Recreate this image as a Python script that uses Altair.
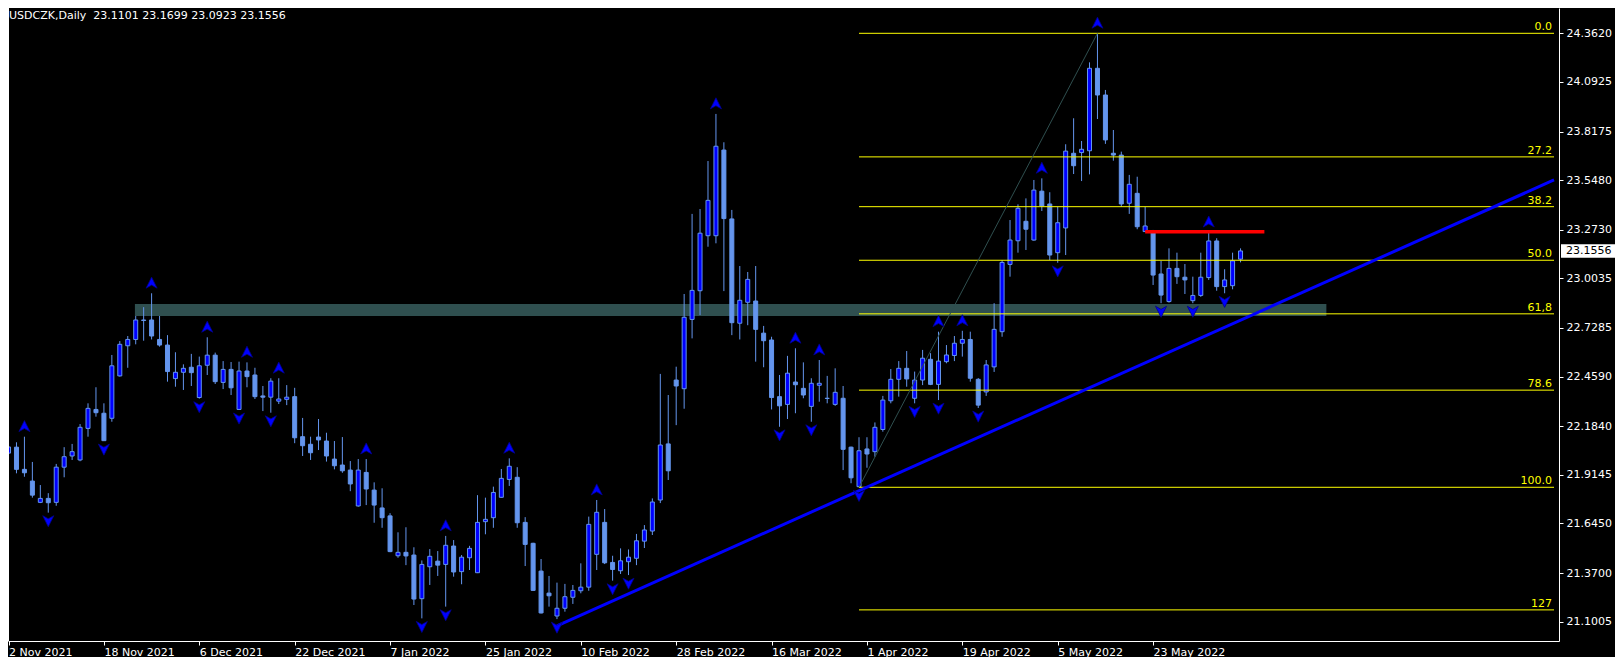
import altair as alt
import pandas as pd

# ---------------- data ----------------
opens = [22.035, 22.068, 21.945, 21.880, 21.762, 21.784, 21.762, 21.957, 22.019, 21.997,
         22.172, 22.277, 22.256, 22.228, 22.463, 22.630, 22.665, 22.773, 22.773, 22.665,
         22.634, 22.448, 22.483, 22.511, 22.343, 22.522, 22.578, 22.427, 22.499, 22.277,
         22.490, 22.468, 22.352, 22.345, 22.323, 22.333, 22.348, 22.126, 22.084, 22.124,
         22.102, 22.002, 21.969, 21.941, 21.742, 21.928, 21.830, 21.731, 21.687, 21.466,
         21.485, 21.470, 21.228, 21.405, 21.436, 21.418, 21.520, 21.378, 21.455, 21.372,
         21.655, 21.677, 21.790, 21.889, 21.901, 21.651, 21.535, 21.381, 21.259, 21.132,
         21.175, 21.236, 21.272, 21.292, 21.474, 21.651, 21.429, 21.383, 21.433, 21.452,
         21.547, 21.603, 21.775, 22.086, 22.440, 22.392, 22.776, 22.935, 23.240, 23.240,
         23.715, 23.333, 22.755, 22.871, 22.878, 22.700, 22.662, 22.348, 22.305, 22.429,
         22.394, 22.294, 22.411, 22.339, 22.305, 22.339, 22.068, 21.849, 22.058, 22.043,
         22.166, 22.325, 22.444, 22.505, 22.339, 22.440, 22.555, 22.416, 22.542, 22.576,
         22.644, 22.665, 22.444, 22.374, 22.513, 22.708, 23.081, 23.212, 23.320, 23.216,
         23.487, 23.416, 23.146, 23.283, 23.697, 23.701, 23.711, 24.168, 24.020, 23.697,
         23.687, 23.420, 23.475, 23.263, 23.260, 23.028, 22.875, 23.059, 23.010, 22.880,
         22.909, 23.008, 23.211, 22.958, 22.963, 23.1101]
highs = [22.091, 22.095, 22.126, 21.986, 21.858, 21.813, 21.975, 22.068, 22.086, 22.196,
         22.311, 22.400, 22.311, 22.579, 22.656, 22.684, 22.795, 22.844, 22.921, 22.795,
         22.689, 22.594, 22.527, 22.585, 22.570, 22.677, 22.592, 22.545, 22.540, 22.542,
         22.538, 22.508, 22.407, 22.450, 22.450, 22.412, 22.397, 22.230, 22.126, 22.224,
         22.148, 22.102, 22.124, 21.991, 22.002, 22.002, 21.873, 21.840, 21.702, 21.596,
         21.624, 21.513, 21.440, 21.503, 21.492, 21.576, 21.553, 21.470, 21.521, 21.802,
         21.788, 21.849, 21.947, 22.006, 21.957, 21.680, 21.538, 21.448, 21.354, 21.317,
         21.310, 21.304, 21.424, 21.683, 21.775, 21.725, 21.466, 21.507, 21.501, 21.587,
         21.636, 21.784, 22.474, 22.357, 22.514, 22.917, 23.361, 23.388, 23.654, 23.915,
         23.758, 23.383, 23.072, 23.039, 23.072, 22.740, 22.680, 22.468, 22.574, 22.616,
         22.538, 22.450, 22.551, 22.463, 22.505, 22.407, 22.071, 22.123, 22.123, 22.205,
         22.352, 22.501, 22.545, 22.601, 22.487, 22.607, 22.589, 22.708, 22.634, 22.684,
         22.713, 22.708, 22.451, 22.551, 22.866, 23.105, 23.327, 23.414, 23.447, 23.549,
         23.558, 23.481, 23.400, 23.747, 23.891, 23.765, 24.201, 24.362, 24.048, 23.826,
         23.706, 23.577, 23.567, 23.400, 23.272, 23.101, 23.170, 23.146, 23.083, 23.013,
         23.146, 23.260, 23.226, 23.054, 23.146, 23.1699]
lows = [22.008, 21.923, 21.904, 21.788, 21.758, 21.705, 21.743, 21.901, 21.997, 21.990,
        22.126, 22.237, 22.102, 22.209, 22.459, 22.508, 22.638, 22.658, 22.665, 22.625,
        22.431, 22.403, 22.385, 22.407, 22.337, 22.468, 22.418, 22.390, 22.357, 22.274,
        22.400, 22.335, 22.268, 22.259, 22.307, 22.301, 22.090, 22.019, 21.997, 22.052,
        21.988, 21.945, 21.926, 21.824, 21.738, 21.747, 21.649, 21.621, 21.486, 21.455,
        21.414, 21.193, 21.119, 21.304, 21.354, 21.184, 21.350, 21.308, 21.387, 21.370,
        21.585, 21.621, 21.788, 21.853, 21.621, 21.409, 21.271, 21.146, 21.184, 21.115,
        21.156, 21.199, 21.258, 21.272, 21.387, 21.420, 21.328, 21.365, 21.359, 21.414,
        21.509, 21.581, 21.758, 21.886, 22.190, 22.281, 22.671, 22.800, 23.179, 23.198,
        22.933, 22.689, 22.665, 22.744, 22.542, 22.511, 22.277, 22.181, 22.224, 22.256,
        22.339, 22.209, 22.320, 22.311, 22.297, 21.941, 21.868, 21.8455, 21.954, 22.015,
        22.154, 22.311, 22.348, 22.403, 22.311, 22.412, 22.412, 22.329, 22.533, 22.545,
        22.570, 22.431, 22.285, 22.352, 22.485, 22.680, 23.013, 23.146, 23.161, 23.212,
        23.377, 23.105, 23.090, 23.133, 23.582, 23.543, 23.580, 23.887, 23.749, 23.656,
        23.401, 23.361, 23.276, 23.261, 22.967, 22.866, 22.869, 22.973, 22.917, 22.866,
        22.901, 22.995, 22.935, 22.921, 22.943, 23.0923]
closes = [22.069, 21.945, 21.926, 21.802, 21.784, 21.760, 21.957, 22.015, 22.043, 22.178,
          22.283, 22.259, 22.104, 22.519, 22.638, 22.665, 22.773, 22.770, 22.684, 22.634,
          22.487, 22.483, 22.505, 22.481, 22.519, 22.578, 22.431, 22.499, 22.397, 22.490,
          22.459, 22.348, 22.345, 22.434, 22.335, 22.345, 22.120, 22.076, 22.037, 22.108,
          22.019, 21.965, 21.937, 21.864, 21.941, 21.836, 21.747, 21.677, 21.489, 21.485,
          21.465, 21.226, 21.418, 21.463, 21.414, 21.524, 21.376, 21.458, 21.507, 21.651,
          21.668, 21.817, 21.895, 21.962, 21.649, 21.529, 21.274, 21.149, 21.244, 21.175,
          21.239, 21.274, 21.292, 21.640, 21.707, 21.427, 21.390, 21.438, 21.458, 21.549,
          21.609, 21.764, 22.080, 21.937, 22.407, 22.788, 22.937, 23.254, 23.436, 23.736,
          23.335, 22.758, 22.882, 22.998, 22.721, 22.658, 22.343, 22.297, 22.478, 22.414,
          22.357, 22.422, 22.422, 22.338, 22.372, 22.056, 21.898, 22.048, 22.030, 22.178,
          22.329, 22.444, 22.505, 22.446, 22.440, 22.561, 22.416, 22.545, 22.579, 22.644,
          22.665, 22.450, 22.301, 22.524, 22.721, 23.092, 23.216, 23.392, 23.276, 23.493,
          23.405, 23.133, 23.312, 23.709, 23.628, 23.719, 24.168, 24.020, 23.771, 23.687,
          23.416, 23.525, 23.290, 23.294, 23.022, 22.911, 23.059, 23.013, 22.995, 22.909,
          23.010, 23.211, 22.958, 22.995, 23.101, 23.1556]

date_labels = ["2 Nov 2021", "18 Nov 2021", "6 Dec 2021", "22 Dec 2021", "7 Jan 2022",
               "25 Jan 2022", "10 Feb 2022", "28 Feb 2022", "16 Mar 2022", "1 Apr 2022",
               "19 Apr 2022", "5 May 2022", "23 May 2022"]
date_tick_bars = [0, 12, 24, 36, 48, 60, 72, 84, 96, 108, 120, 132, 144]
price_ticks = [24.3620, 24.0925, 23.8175, 23.5480, 23.2730, 23.0035, 22.7285,
               22.4590, 22.1840, 21.9145, 21.6450, 21.3700, 21.1005]

fib_labels = ["0.0", "27.2", "38.2", "50.0", "61,8", "78.6", "100.0", "127"]
fib_prices = [24.362, 23.677, 23.401, 23.104, 22.807, 22.384, 21.8455, 21.166]
fib_start_bar = 107

fractal_up_bars = [2, 18, 25, 30, 34, 45, 55, 63, 74, 89, 99, 102, 117, 120, 130, 137, 151]
fractal_down_bars = [5, 12, 24, 29, 33, 52, 55, 69, 76, 78, 97, 101, 107, 114, 117, 122,
                     132, 145, 149, 153]

zone_bars = [15.9, 165.8]
zone_prices = [22.795, 22.8615]
trend_bars = [69, 194.4375]
trend_prices = [21.078, 23.549]
red_bars = [143, 158]
red_price = 23.262
fib_diag_bars = [107, 137]
fib_diag_prices = [21.8455, 24.362]
last_price = 23.1556
title_text = "USDCZK,Daily\u00a0 23.1101 23.1699 23.0923 23.1556"

x_domain = [0.5625, 194.4375]
y_domain = [20.9935, 24.5023]

# ---------------- tables ----------------
n = len(opens)
candles = pd.DataFrame({"bar": list(range(n)), "open": opens, "high": highs,
                        "low": lows, "close": closes})
fib = pd.DataFrame({"label": fib_labels, "price": fib_prices,
                    "start": [fib_start_bar] * len(fib_labels),
                    "end": [x_domain[1]] * len(fib_labels)})
up = candles[candles["bar"].isin(fractal_up_bars)]
down = candles[candles["bar"].isin(fractal_down_bars)]
zone = pd.DataFrame({"b0": [zone_bars[0]], "b1": [zone_bars[1]],
                     "lo": [zone_prices[0]], "hi": [zone_prices[1]]})
trend = pd.DataFrame({"bar": trend_bars, "price": trend_prices})
diag = pd.DataFrame({"bar": fib_diag_bars, "price": fib_diag_prices})
red = pd.DataFrame({"b0": [red_bars[0]], "b1": [red_bars[1]], "price": [red_price]})
last = pd.DataFrame({"price": [last_price], "txt": [f"{last_price:.4f}"]})
ttl = pd.DataFrame({"t": [title_text]})

FONT = "DejaVu Sans"
xs = alt.Scale(domain=x_domain, nice=False, zero=False)
ys = alt.Scale(domain=y_domain, nice=False, zero=False)
label_expr = "[" + ",".join(f"'{d}'" for d in date_labels) + "][round(datum.value/12)]"
xaxis = alt.Axis(values=date_tick_bars, labelExpr=label_expr, labelAlign="left",
                 labelBaseline="top", labelColor="white", tickColor="white",
                 domainColor="white", tickSize=4, labelPadding=1, labelFont=FONT,
                 labelFontSize=11, grid=False, title=None, labelOverlap=False,
                 labelFlush=False, labelBound=False)
yaxis = alt.Axis(values=price_ticks, format=".4f", orient="right", labelAlign="left",
                 labelColor="white", tickColor="white", domainColor="white", tickSize=4,
                 labelPadding=3, labelFont=FONT, labelFontSize=11, grid=False, title=None,
                 labelOverlap=False, labelFlush=False, labelBound=False)


def X(f):
    return alt.X(f, type="quantitative", scale=xs, axis=xaxis, title=None)


def Y(f):
    return alt.Y(f, type="quantitative", scale=ys, axis=yaxis, title=None)


CORN = "#6495ED"

zone_l = alt.Chart(zone).mark_rect(color="#2F4F4F", opacity=1, clip=True).encode(
    x=X("b0"), x2="b1", y=Y("lo"), y2="hi")

wicks = alt.Chart(candles).mark_rule(color=CORN, strokeWidth=1, clip=True).encode(
    x=X("bar"), y=Y("low"), y2="high")

bodies = alt.Chart(candles).mark_bar(size=4, stroke=CORN, strokeWidth=1, clip=True).encode(
    x=X("bar"), y=Y("open"), y2="close",
    fill=alt.condition("datum.close >= datum.open", alt.value("#0000FF"), alt.value(CORN)))

fib_lines = alt.Chart(fib).mark_rule(color="#FFFF00", strokeWidth=1, clip=True).encode(
    x=X("start"), x2="end", y=Y("price"))

fib_text = alt.Chart(fib).mark_text(color="#FFFF00", align="right", baseline="alphabetic",
                                    dx=-2, dy=-3, font=FONT, fontSize=11).encode(
    x=X("end"), y=Y("price"), text="label")

diag_l = alt.Chart(diag).mark_line(color="#2F4F4F", strokeWidth=1, clip=True).encode(
    x=X("bar"), y=Y("price"))

trend_l = alt.Chart(trend).mark_line(color="#0000FF", strokeWidth=3, clip=True).encode(
    x=X("bar"), y=Y("price"))

red_l = alt.Chart(red).mark_rule(color="#FF0000", strokeWidth=3.5, clip=True).encode(
    x=X("b0"), x2="b1", y=Y("price"))

UP_SHAPE = "M0,-1L0.9,0.8L0,0.3L-0.9,0.8Z"
DOWN_SHAPE = "M0,1L0.9,-0.8L0,-0.3L-0.9,-0.8Z"
up_l = alt.Chart(up).mark_point(shape=UP_SHAPE, filled=True, size=150, fill="#0000FF",
                                stroke="#00008B", strokeWidth=0.8, opacity=1,
                                yOffset=-10, clip=True).encode(
    x=X("bar"), y=Y("high"))
down_l = alt.Chart(down).mark_point(shape=DOWN_SHAPE, filled=True, size=150, fill="#0000FF",
                                    stroke="#00008B", strokeWidth=0.8, opacity=1,
                                    yOffset=8, clip=True).encode(
    x=X("bar"), y=Y("low"))

left_border = alt.Chart(ttl).mark_rule(color="white", strokeWidth=1).encode(
    x=alt.value(0.5), y=alt.value(0), y2=alt.value(633))

title_l = alt.Chart(ttl).mark_text(color="white", align="left", baseline="alphabetic",
                                   font=FONT, fontSize=11).encode(
    x=alt.value(1), y=alt.value(11), text="t")

BOX = "M-1,-0.25L1,-0.25L1,0.25L-1,0.25Z"
box_l = alt.Chart(last).mark_point(shape=BOX, filled=True, size=2916, color="white",
                                   opacity=1).encode(
    x=alt.value(1580), y=Y("price"))
box_t = alt.Chart(last).mark_text(color="black", align="left", baseline="middle",
                                  font=FONT, fontSize=11).encode(
    x=alt.value(1558), y=Y("price"), text="txt")

chart = alt.layer(zone_l, wicks, bodies, fib_lines, diag_l, trend_l, red_l, up_l, down_l,
                  fib_text, left_border, title_l, box_l, box_t).properties(
    width=1551, height=633,
    autosize=alt.AutoSizeParams(type="none"),
    padding={"left": 0, "top": 0, "right": 56, "bottom": 16},
    background="black",
).configure_view(stroke=None)

chart.save("out.html", embed_options={"renderer": "svg", "actions": False})
